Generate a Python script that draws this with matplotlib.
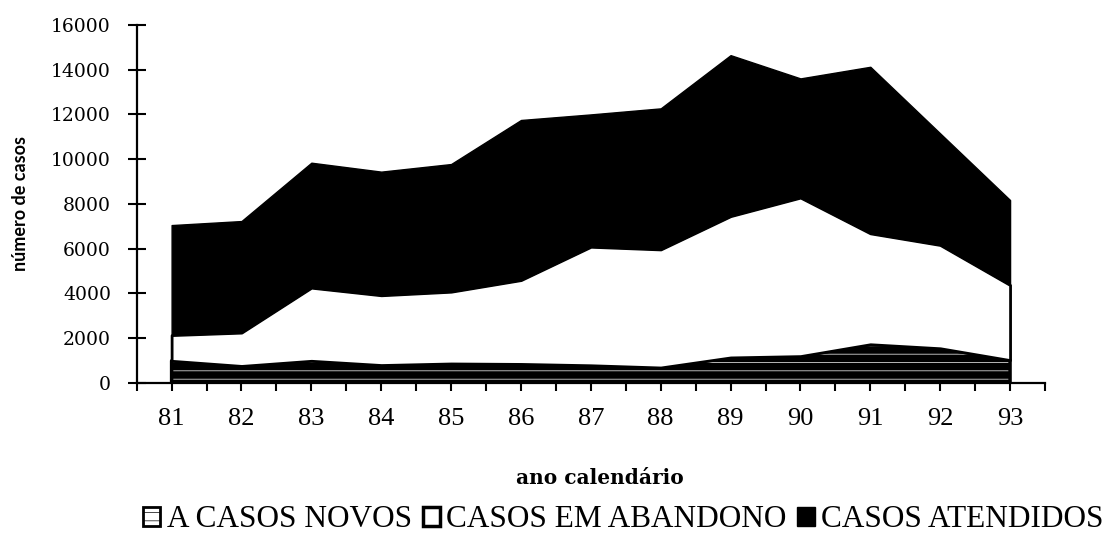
import numpy as np
import matplotlib
matplotlib.use('Agg')
import matplotlib.pyplot as plt
from matplotlib.patches import Patch
from matplotlib.ticker import MultipleLocator

# valores (numero de casos por ano)
anos = [81, 82, 83, 84, 85, 86, 87, 88, 89, 90, 91, 92, 93]
casos_novos = [980, 750, 980, 790, 860, 840, 780, 680, 1130, 1190, 1720, 1540, 1010]
casos_abandono = [1150, 1490, 3270, 3120, 3210, 3750, 5300, 5280, 6320, 7090, 4960, 4620, 3360]
casos_atendidos = [4920, 4990, 5590, 5530, 5710, 7160, 5920, 6310, 7200, 5330, 7450, 4990, 3800]

legenda = ['A CASOS NOVOS', 'CASOS EM ABANDONO', 'CASOS ATENDIDOS']

plt.rcParams['hatch.linewidth'] = 0.5

# camadas empilhadas
c1 = np.array(casos_novos)
c2 = c1 + np.array(casos_abandono)
c3 = c2 + np.array(casos_atendidos)

fig = plt.figure(figsize=(11.13, 5.36), dpi=100)
ax = fig.add_axes([0.1228, 0.2860, 0.8161, 0.6674])

# casos novos: preto com linhas brancas finas
ax.fill_between(anos, 0, c1, facecolor='black', edgecolor='white', hatch='--', linewidth=0)
ax.fill_between(anos, 0, c1, facecolor='none', edgecolor='black', linewidth=2.5)
# abandono: branco com contorno preto
ax.fill_between(anos, c1, c2, facecolor='white', edgecolor='black', linewidth=2)
# atendidos: preto
ax.fill_between(anos, c2, c3, facecolor='black', edgecolor='black', linewidth=1)

ax.set_xlim(80.5, 93.5)
ax.set_ylim(0, 16000)

ax.spines['top'].set_visible(False)
ax.spines['right'].set_visible(False)
ax.spines['left'].set_linewidth(1.6)
ax.spines['bottom'].set_linewidth(1.6)

ax.yaxis.set_major_locator(MultipleLocator(2000))
ax.xaxis.set_minor_locator(MultipleLocator(0.5))
ax.set_xticks(anos)
ax.set_xticklabels([str(a) for a in anos])

ax.tick_params(axis='y', direction='inout', length=13, width=1.5, pad=12)
ax.tick_params(axis='x', which='both', direction='out', length=6, width=1.5, pad=12)
for lab in ax.get_yticklabels():
    lab.set_family('DejaVu Serif')
    lab.set_fontsize(13.5)
for lab in ax.get_xticklabels():
    lab.set_family('Liberation Serif')
    lab.set_fontsize(19)

fig.text(0.018, 1 - 203 / 536, 'número de casos', rotation=90, ha='center', va='center',
         family='Lato', fontweight='bold', fontsize=13)
fig.text(600 / 1113, 1 - 478 / 536, 'ano calendário', ha='center', va='center',
         family='DejaVu Serif', fontweight='bold', fontsize=14.5)

handles = [Patch(facecolor='white', edgecolor='black', hatch='--', linewidth=2),
           Patch(facecolor='white', edgecolor='black', linewidth=2.5),
           Patch(facecolor='black', edgecolor='black')]
fig.legend(handles, legenda, loc='center', bbox_to_anchor=(0.56, 0.03), ncol=3,
           frameon=False, handlelength=0.55, handleheight=0.55, handletextpad=0.2,
           columnspacing=0.35, borderpad=0,
           prop={'family': 'Liberation Serif', 'size': 22.5})

plt.savefig('out.png', dpi=100)
plt.close()
